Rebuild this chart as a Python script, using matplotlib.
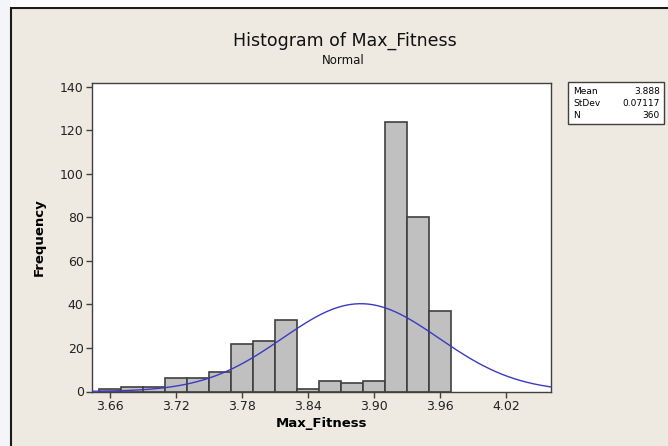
import numpy as np
import matplotlib
matplotlib.use("Agg")
import matplotlib.pyplot as plt
from matplotlib.patches import Rectangle

# bin centres (width 0.02) and counts
bin_centers = [3.66, 3.68, 3.70, 3.72, 3.74, 3.76, 3.78, 3.80,
               3.82, 3.84, 3.86, 3.88, 3.90, 3.92, 3.94, 3.96]
counts = [1, 2, 2, 6, 6, 9, 22, 23, 33, 1, 5, 4, 5, 124, 80, 37]
bin_width = 0.02

# fitted normal shown in the stats box
fit_mean = 3.888
fit_sd = 0.07117
fit_n = 360

x_ticks = [3.66, 3.72, 3.78, 3.84, 3.90, 3.96, 4.02]
y_ticks = [0, 20, 40, 60, 80, 100, 120, 140]

bg = "#eeeae1"
fig = plt.figure(figsize=(6.68, 4.46), dpi=100)
fig.patch.set_facecolor("#f3f5f9")

# beige graph frame with dark border (runs off the right/bottom edge)
frame = Rectangle((11 / 668, -0.05), 1.1, (446 - 8) / 446 + 0.05,
                  transform=fig.transFigure, facecolor=bg,
                  edgecolor="#1a1a1a", linewidth=1.5, zorder=-2)
fig.patches.append(frame)
top_strip = Rectangle((11 / 668, (446 - 7) / 446), 1.0, 7 / 446,
                      transform=fig.transFigure, facecolor="#fbfbfd",
                      edgecolor="none", zorder=-2)
fig.patches.append(top_strip)

ax = fig.add_axes([92 / 668, 1 - 391.5 / 446, (551 - 92) / 668, (391.5 - 83) / 446])
ax.set_facecolor("white")

ax.bar(bin_centers, counts, width=bin_width, color="#c0c0c0",
       edgecolor="#404040", linewidth=1.2, zorder=2)

xs = np.linspace(3.6436, 4.061, 300)
pdf = np.exp(-0.5 * ((xs - fit_mean) / fit_sd) ** 2) / (fit_sd * np.sqrt(2 * np.pi))
ax.plot(xs, pdf * fit_n * bin_width, color="#3a3ac4", linewidth=1.0, zorder=3)

ax.set_xlim(3.6436, 4.061)
ax.set_ylim(0, 141.8)
ax.set_xticks(x_ticks)
ax.set_xticklabels(["%.2f" % v for v in x_ticks])
ax.set_yticks(y_ticks)
ax.tick_params(direction="out", length=4, width=1, color="#404040",
               labelsize=9, labelcolor="#222222", pad=2)
for s in ax.spines.values():
    s.set_color("#404040")
    s.set_linewidth(1.0)

ax.set_xlabel("Max_Fitness", fontsize=9.5, fontweight="bold", labelpad=3)
ax.set_ylabel("Frequency", fontsize=9.5, fontweight="bold", labelpad=10)

fig.text(345 / 668, 1 - 41 / 446, "Histogram of Max_Fitness", ha="center",
         va="center", fontsize=12.5, color="#111111")
fig.text(343 / 668, 1 - 60 / 446, "Normal", ha="center", va="center",
         fontsize=8.5, color="#111111")

# stats box
box = Rectangle((568 / 668, 1 - 124 / 446), 96 / 668, 42 / 446,
                transform=fig.transFigure, facecolor="white",
                edgecolor="#404040", linewidth=1.0)
fig.patches.append(box)
rows = [("Mean", "%.3f" % fit_mean), ("StDev", "%.5f" % fit_sd), ("N", str(fit_n))]
for i, (name, val) in enumerate(rows):
    yy = 1 - (92 + 12 * i) / 446
    fig.text(573 / 668, yy, name, ha="left", va="center", fontsize=6.5)
    fig.text(660 / 668, yy, val, ha="right", va="center", fontsize=6.5)

fig.savefig("out.png", dpi=100, facecolor=fig.get_facecolor())
